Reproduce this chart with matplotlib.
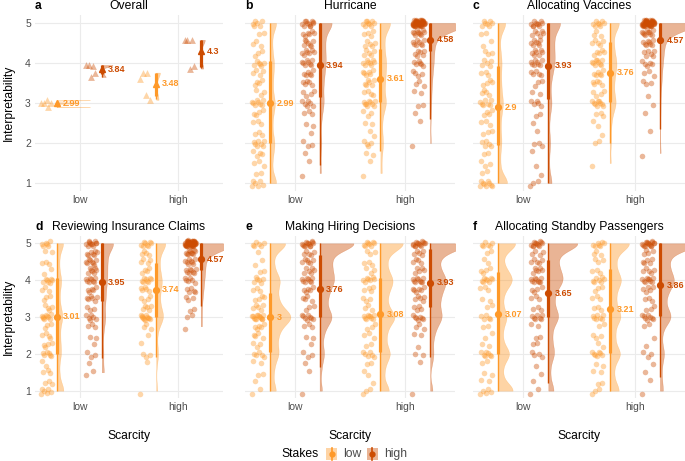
import numpy as np
import matplotlib.pyplot as plt
from matplotlib.patches import Rectangle
from matplotlib.lines import Line2D

plt.rcParams['font.family'] = ['Liberation Sans', 'DejaVu Sans']

# --- data -------------------------------------------------------------
scarcity = ['low', 'high']
stakes = ['low', 'high']
stake_colors = ['#FE9929', '#CC4C02']

scenarios = ['Hurricane', 'Allocating Vaccines', 'Reviewing Insurance Claims',
             'Making Hiring Decisions', 'Allocating Standby Passengers']
tags = ['b', 'c', 'd', 'e', 'f']

# response levels and how many participants gave each one
# group order: (scarcity low, stakes low), (low, high), (high, low), (high, high)
levels = [1, 1.25, 1.5, 1.75, 2, 2.25, 2.5, 2.75, 3, 3.25, 3.5, 3.75, 4, 4.25, 4.5, 4.75, 5]

hurricane_counts = [
    [6, 2, 3, 4, 7, 3, 3, 4, 8, 3, 4, 4, 6, 3, 3, 2, 6],
    [0, 1, 1, 1, 3, 1, 2, 3, 6, 4, 5, 6, 8, 7, 7, 6, 11],
    [0, 1, 1, 2, 4, 2, 2, 3, 9, 4, 6, 6, 8, 5, 5, 4, 9],
    [0, 0, 0, 0, 1, 0, 1, 1, 2, 2, 3, 4, 6, 6, 8, 10, 50],
]
vaccines_counts = [
    [9, 2, 3, 2, 5, 3, 3, 4, 7, 4, 4, 3, 5, 3, 2, 2, 7],
    [3, 1, 1, 1, 3, 1, 1, 2, 5, 2, 3, 5, 8, 7, 7, 6, 10],
    [0, 0, 1, 0, 2, 1, 2, 3, 9, 4, 5, 6, 9, 5, 5, 3, 8],
    [0, 0, 0, 1, 0, 1, 0, 1, 1, 1, 3, 3, 5, 6, 8, 10, 50],
]
insurance_counts = [
    [6, 3, 3, 2, 6, 4, 4, 3, 9, 4, 3, 3, 7, 2, 3, 2, 6],
    [0, 0, 2, 1, 3, 1, 2, 3, 6, 3, 6, 5, 8, 7, 8, 7, 11],
    [1, 0, 0, 1, 3, 1, 1, 3, 11, 5, 4, 5, 8, 4, 4, 4, 8],
    [0, 0, 0, 0, 0, 0, 0, 1, 2, 2, 3, 5, 6, 8, 8, 10, 48],
]
hiring_counts = [
    [2, 1, 2, 2, 5, 3, 4, 5, 13, 5, 4, 3, 6, 2, 2, 1, 6],
    [1, 0, 1, 1, 3, 1, 2, 3, 8, 3, 4, 5, 8, 6, 6, 5, 13],
    [3, 1, 2, 2, 6, 2, 3, 3, 9, 3, 3, 4, 7, 3, 3, 3, 8],
    [1, 0, 0, 1, 2, 1, 2, 3, 7, 4, 5, 6, 9, 5, 4, 5, 14],
]
standby_counts = [
    [5, 2, 2, 2, 7, 2, 2, 2, 5, 2, 2, 3, 8, 4, 2, 2, 6],
    [2, 1, 1, 1, 4, 2, 2, 2, 7, 3, 3, 4, 9, 6, 5, 4, 12],
    [3, 2, 2, 2, 7, 2, 3, 2, 7, 3, 3, 3, 7, 3, 3, 3, 7],
    [1, 1, 1, 1, 3, 1, 1, 2, 8, 3, 3, 5, 9, 5, 5, 4, 16],
]

# means shown as labels
hurricane_means = [2.99, 3.94, 3.61, 4.58]
vaccines_means = [2.9, 3.93, 3.76, 4.57]
insurance_means = [3.01, 3.95, 3.74, 4.57]
hiring_means = [3.0, 3.76, 3.08, 3.93]
standby_means = [3.07, 3.65, 3.21, 3.86]
overall_means = [2.99, 3.84, 3.48, 4.3]

# intervals: thick low, thick high, thin low, thin high
hurricane_iv = [[2.0, 4.05, 1.0, 5.0], [3.15, 5.0, 1.45, 5.0], [3.03, 4.35, 1.8, 5.0], [4.3, 5.0, 2.6, 5.0]]
vaccines_iv = [[1.95, 3.93, 1.0, 5.0], [3.1, 5.0, 1.0, 5.0], [3.03, 4.53, 2.0, 5.0], [4.5, 5.0, 2.35, 5.0]]
insurance_iv = [[2.0, 4.05, 1.0, 5.0], [3.43, 5.0, 1.88, 5.0], [2.99, 4.46, 1.92, 5.0], [4.28, 5.0, 3.3, 5.0]]
hiring_iv = [[2.06, 3.64, 1.0, 5.0], [3.01, 4.68, 1.65, 5.0], [2.06, 4.05, 1.0, 5.0], [3.26, 4.85, 1.92, 5.0]]
standby_iv = [[2.0, 4.21, 1.0, 5.0], [3.0, 4.55, 1.2, 5.0], [2.03, 4.3, 1.0, 5.0], [3.03, 5.0, 1.38, 5.0]]

all_counts = [hurricane_counts, vaccines_counts, insurance_counts, hiring_counts, standby_counts]
all_means = [hurricane_means, vaccines_means, insurance_means, hiring_means, standby_means]
all_iv = [hurricane_iv, vaccines_iv, insurance_iv, hiring_iv, standby_iv]

# --- layout -----------------------------------------------------------
W, H = 685, 461
fig = plt.figure(figsize=(W / 100, H / 100), dpi=100)


def add_ax(left, top, w, h):
    return fig.add_axes([left / W, 1 - (top + h) / H, w / W, h / H])


col_px = [(35, 188), (245, 210), (473, 212)]
row_px = [(15, 176), (236, 162)]

DODGE = 0.225
PT_SHIFT = 0.105
SLAB_W = 0.33
SCEN_BW = 0.19


def rule_bw(v):
    sd = v.std(ddof=1)
    iqr = np.subtract(*np.percentile(v, [75, 25])) / 1.34
    spread = min(sd, iqr) if iqr > 0 else sd
    return max(0.45 * spread * len(v) ** -0.2, 0.005)


def kde(vals, bw):
    lo, hi = vals.min(), vals.max()
    grid = np.linspace(lo, hi, 600)
    d = np.zeros_like(grid)
    for src in (vals, 2 * lo - vals, 2 * hi - vals):
        d += np.exp(-0.5 * ((grid[:, None] - src[None, :]) / bw) ** 2).sum(axis=1)
    return grid, d / (len(vals) * bw * np.sqrt(2 * np.pi))


def style(ax, left_col, bottom_row):
    ax.set_xlim(0.55, 2.45)
    ax.set_ylim(0.8, 5.2)
    ax.set_xticks([1, 2])
    ax.set_xticklabels(scarcity)
    ax.set_yticks([1, 2, 3, 4, 5])
    ax.grid(color='#EBEBEB', lw=0.8)
    ax.set_axisbelow(True)
    for s in ax.spines.values():
        s.set_visible(False)
    ax.tick_params(length=0, labelsize=7.5, labelcolor='#4D4D4D', pad=3)
    if left_col:
        ax.set_ylabel('Interpretability', fontsize=8.7, labelpad=7)
    else:
        ax.set_yticklabels([])
    if bottom_row:
        ax.set_xlabel('Scarcity', fontsize=8.7, labelpad=13)


def draw_group(ax, xc, k, vals, mean, iv, bw, dmax, marker, jitter_y):
    c = stake_colors[k % 2]
    # slab
    g, d = kde(vals, bw)
    ax.fill_betweenx(g, xc, xc + SLAB_W * d / dmax, color=c, alpha=0.42, lw=0.3, ec=c)
    # jittered raw points
    n = len(vals)
    i = np.arange(n)
    jx = ((i * 0.6180339887) % 1 - 0.5) * 0.11
    jy = ((i * 0.7548776662) % 1 - 0.5) * 2 * jitter_y
    size = 16 if marker == 'o' else 24
    ax.scatter(xc - PT_SHIFT + jx, vals + jy, s=size, marker=marker, color=c,
               alpha=0.4, lw=0, zorder=3)
    # point + intervals
    ax.plot([xc, xc], [iv[2], iv[3]], color=c, lw=1.0, solid_capstyle='butt', zorder=4)
    ax.plot([xc, xc], [iv[0], iv[1]], color=c, lw=2.3, solid_capstyle='butt', zorder=4)
    ax.plot(xc, mean, marker=marker, color=c, ms=4.2, zorder=5)
    ax.text(xc + 0.06, mean, f'{mean:g}', color=c, fontsize=6.5, fontweight='bold',
            va='center', ha='left', zorder=6)


def group_x(k):
    return [1, 1, 2, 2][k] + (-DODGE if k % 2 == 0 else DODGE)


# panel a: overall, built from the scenario means
ax = add_ax(col_px[0][0], row_px[0][0], col_px[0][1], row_px[0][1])
style(ax, True, False)
tri = [np.array([m[k] for m in all_means]) for k in range(4)]
tri_bw = [rule_bw(v) for v in tri]
dmax = max(kde(v, b)[1].max() for v, b in zip(tri, tri_bw))
for k in range(4):
    q = np.quantile(tri[k], [0.17, 0.83, 0.025, 0.975])
    draw_group(ax, group_x(k), k, tri[k], overall_means[k], q, tri_bw[k], dmax, '^', 0.0)
ax.set_title('Overall', fontsize=8.7, pad=4)
ax.set_title('a', loc='left', fontsize=8.7, fontweight='bold', pad=4)

# scenario panels
slots = [(0, 1), (0, 2), (1, 0), (1, 1), (1, 2)]
for s, (r, cidx) in enumerate(slots):
    ax = add_ax(col_px[cidx][0], row_px[r][0], col_px[cidx][1], row_px[r][1])
    style(ax, cidx == 0, r == 1)
    vals = [np.repeat(levels, all_counts[s][k]).astype(float) for k in range(4)]
    dmax = max(kde(v, SCEN_BW)[1].max() for v in vals)
    for k in range(4):
        draw_group(ax, group_x(k), k, vals[k], all_means[s][k], all_iv[s][k],
                   SCEN_BW, dmax, 'o', 0.08)
    ax.set_title(scenarios[s], fontsize=8.7, pad=4)
    ax.set_title(tags[s], loc='left', fontsize=8.7, fontweight='bold', pad=4)


# legend, drawn in pixel coordinates of the figure
def fx(px):
    return px / W


def fy(py):
    return 1 - py / H


fig.text(fx(300), fy(454), 'Stakes', fontsize=8.7, ha='center', va='center')
for c, lab, x0 in zip(stake_colors, stakes, [326, 367]):
    fig.patches.append(Rectangle((fx(x0), fy(460)), 11 / W, 12 / H, transform=fig.transFigure,
                                 color=c, alpha=0.42, lw=0))
    fig.lines.append(Line2D([fx(x0 + 5.5)] * 2, [fy(460), fy(448)], transform=fig.transFigure,
                            color=c, lw=1.2))
    fig.lines.append(Line2D([fx(x0 + 5.5)], [fy(454)], transform=fig.transFigure,
                            color=c, marker='o', ms=3.5))
    fig.text(fx(x0 + 17), fy(454), lab, fontsize=8.7, color='#4D4D4D', ha='left', va='center')

fig.savefig('out.png', dpi=100)
